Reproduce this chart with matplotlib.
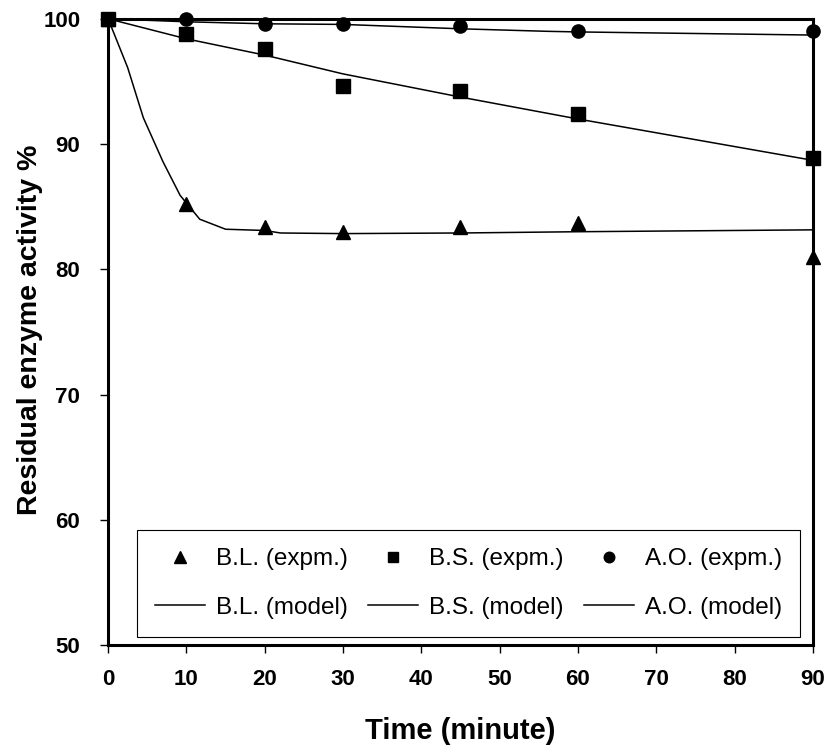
import numpy as np
import matplotlib
matplotlib.use('Agg')
import matplotlib.pyplot as plt

plt.rcParams['font.family'] = ['Liberation Sans', 'DejaVu Sans']

# experimental points
t_exp = [0, 10, 20, 30, 45, 60, 90]
bl_exp = [100, 85.2, 83.4, 83.0, 83.4, 83.7, 81.0]
bs_exp = [100, 98.8, 97.6, 94.6, 94.2, 92.4, 88.9]
ao_exp = [100, 99.95, 99.6, 99.6, 99.4, 99.0, 99.0]

# model curves
t_bl_mod = [0, 2.5, 4.5, 7, 9.2, 11.7, 15, 20, 22, 30, 45, 60, 90]
bl_mod = [100, 96.1, 92.1, 88.6, 85.9, 84.0, 83.2, 83.1, 82.9, 82.85, 82.9, 83.0, 83.15]
t_bs_mod = [0, 10, 20, 30, 45, 60, 90]
bs_mod = [100, 98.4, 97.1, 95.6, 93.75, 92.0, 88.7]
t_ao_mod = [0, 10, 20, 30, 45, 56, 60, 90]
ao_mod = [100, 99.76, 99.6, 99.55, 99.2, 99.0, 98.95, 98.7]

fig = plt.figure(figsize=(8.38, 7.51), dpi=100)
ax = fig.add_axes([0.129, 0.141, 0.841, 0.834])

h_bl, = ax.plot(t_exp, bl_exp, '^', color='black', markersize=10, clip_on=False, zorder=5)
h_bs, = ax.plot(t_exp, bs_exp, 's', color='black', markersize=9.5, clip_on=False, zorder=5)
h_ao, = ax.plot(t_exp, ao_exp, 'o', color='black', markersize=9.5, clip_on=False, zorder=5)
m_bl, = ax.plot(t_bl_mod, bl_mod, '-', color='black', lw=1.1)
m_bs, = ax.plot(t_bs_mod, bs_mod, '-', color='black', lw=1.1)
m_ao, = ax.plot(t_ao_mod, ao_mod, '-', color='black', lw=1.1)

ax.set_xlim(0, 90)
ax.set_ylim(50, 100)
ax.set_xticks(np.arange(0, 91, 10))
ax.set_yticks(np.arange(50, 101, 10))
for s in ax.spines.values():
    s.set_linewidth(2.2)
ax.tick_params(direction='out', length=6, width=1, labelsize=16)
ax.tick_params(axis='x', pad=11)
ax.tick_params(axis='y', pad=14)
for lab in ax.get_xticklabels() + ax.get_yticklabels():
    lab.set_fontweight('bold')

ax.set_xlabel('Time (minute)', fontsize=21, fontweight='bold', labelpad=20)
ax.set_ylabel('Residual enzyme activity %', fontsize=20.5, fontweight='bold')
ax.yaxis.set_label_coords(-0.092, 0.503)

leg = ax.legend([h_bl, m_bl, h_bs, m_bs, h_ao, m_ao],
                ['B.L. (expm.)', 'B.L. (model)', 'B.S. (expm.)', 'B.S. (model)', 'A.O. (expm.)', 'A.O. (model)'],
                ncol=3, loc='lower left', bbox_to_anchor=(0.041, 0.013, 0.941, 0.17), mode='expand',
                borderaxespad=0, fancybox=False, edgecolor='black', framealpha=1, markerscale=0.8,
                fontsize=17.5, handlelength=2.05, columnspacing=0.6, handletextpad=0.45,
                labelspacing=1.09, borderpad=0.75)
leg.get_frame().set_linewidth(0.8)

plt.savefig('out.png', dpi=100)
